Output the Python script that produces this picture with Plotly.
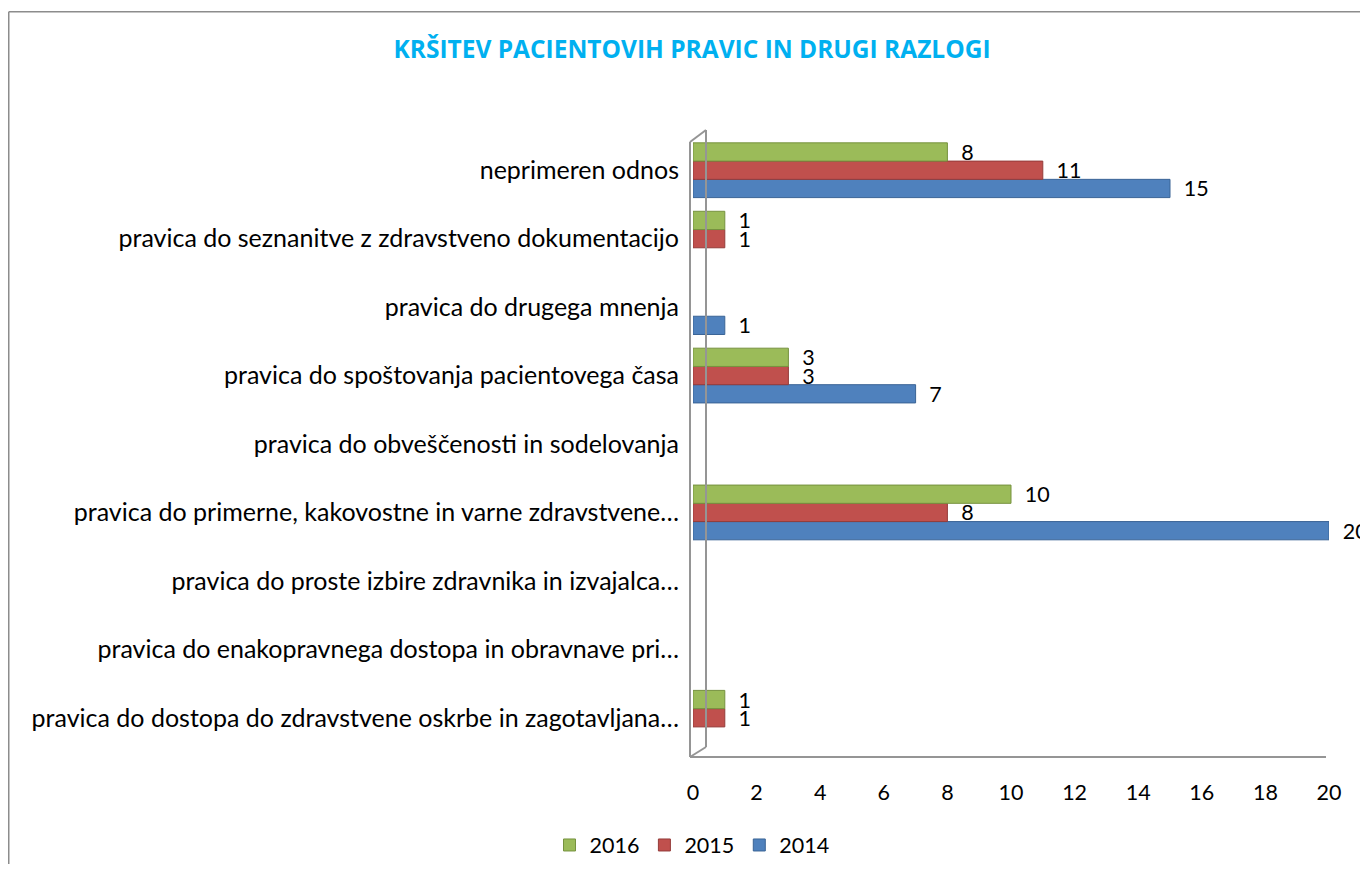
import plotly.graph_objects as go

categories = [
    "pravica do dostopa do zdravstvene oskrbe in zagotavljana…",
    "pravica do enakopravnega dostopa in obravnave pri…",
    "pravica do proste izbire zdravnika in izvajalca…",
    "pravica do primerne, kakovostne in varne zdravstvene…",
    "pravica do obveščenosti in sodelovanja",
    "pravica do spoštovanja pacientovega časa",
    "pravica do drugega mnenja",
    "pravica do seznanitve z zdravstveno dokumentacijo",
    "neprimeren odnos",
]
v2014 = [None, None, None, 20, None, 7, 1, None, 15]
v2015 = [1, None, None, 8, None, 3, None, 1, 11]
v2016 = [1, None, None, 10, None, 3, None, 1, 8]
tick_vals = [0, 2, 4, 6, 8, 10, 12, 14, 16, 18, 20]

# page is rendered with an 8px body margin; work in page coordinates
OFF = 8
W, H = 1368 - 2 * OFF, 872 - 2 * OFF
L, R, T, B = 693 - OFF, 1329 - OFF, 136 - OFF, 752 - OFF
FONT = "Lato, Calibri, sans-serif"
FS_CAT = 25
FS = 21.5

series = [
    ("2014", v2014, "#4F81BD", "#3A6496"),
    ("2015", v2015, "#C0504D", "#943C3A"),
    ("2016", v2016, "#9BBB59", "#76923F"),
]

fig = go.Figure()
for name, vals, col, edge in series:
    fig.add_trace(go.Bar(
        y=categories, x=vals, name=name, orientation="h",
        marker=dict(color=col, line=dict(color=edge, width=1)),
        text=[("" if v is None else "\u2002" + str(v)) for v in vals],
        textposition="outside", cliponaxis=False, constraintext="none",
        textfont=dict(family=FONT, size=FS, color="#000000"),
    ))

def px(x):
    return (x - OFF - L) / (R - L)

def py(y):
    return (B - (y - OFF)) / (B - T)

line = dict(color="#959595", width=2)
frame = dict(color="#8C8C8C", width=1.5)
shapes = [
    # outer chart frame (top and left edges visible)
    dict(type="line", xref="paper", yref="paper", x0=px(8.75), x1=px(1370), y0=py(11.75), y1=py(11.75), line=frame),
    dict(type="line", xref="paper", yref="paper", x0=px(8.75), x1=px(8.75), y0=py(11.75), y1=py(875), line=frame),
    # 3D wall lines
    dict(type="line", xref="paper", yref="paper", x0=px(690), x1=px(690), y0=py(142), y1=py(757), line=line),
    dict(type="line", xref="paper", yref="paper", x0=px(706), x1=px(706), y0=py(130), y1=py(747), line=line),
    dict(type="line", xref="paper", yref="paper", x0=px(690), x1=px(706), y0=py(142), y1=py(130), line=line),
    dict(type="line", xref="paper", yref="paper", x0=px(690), x1=px(706), y0=py(757), y1=py(747), line=line),
    dict(type="line", xref="paper", yref="paper", x0=px(690), x1=px(1326), y0=py(757), y1=py(757), line=line),
]

fig.update_layout(
    width=W, height=H,
    margin=dict(l=L, r=W - R, t=T, b=H - B, pad=0, autoexpand=False),
    paper_bgcolor="white", plot_bgcolor="white",
    barmode="group", bargap=0.2, bargroupgap=0,
    title=dict(text="<b>KRŠITEV PACIENTOVIH PRAVIC IN DRUGI RAZLOGI</b>",
               x=(692 - OFF) / W, xanchor="center", xref="container",
               y=1 - (49 - OFF) / H, yanchor="middle", yref="container",
               font=dict(family="Open Sans, sans-serif", size=24.5, color="#00B0F0")),
    xaxis=dict(range=[0, 20], tickvals=tick_vals, showgrid=False, zeroline=False,
               showline=False, ticks="outside", ticklen=0, ticklabelstandoff=21,
               tickfont=dict(family=FONT, size=FS, color="#000000")),
    yaxis=dict(type="category", categoryorder="array", categoryarray=categories,
               showgrid=False, showline=False, ticks="outside", ticklen=0,
               ticklabelstandoff=8,
               tickfont=dict(family=FONT, size=FS_CAT, color="#000000")),
    legend=dict(orientation="h", traceorder="reversed", x=px(692), xanchor="center",
                y=py(845), yanchor="middle", font=dict(family=FONT, size=FS, color="#000000"),
                itemwidth=30),
    shapes=shapes,
    showlegend=True,
)

fig.write_html("out.html")
